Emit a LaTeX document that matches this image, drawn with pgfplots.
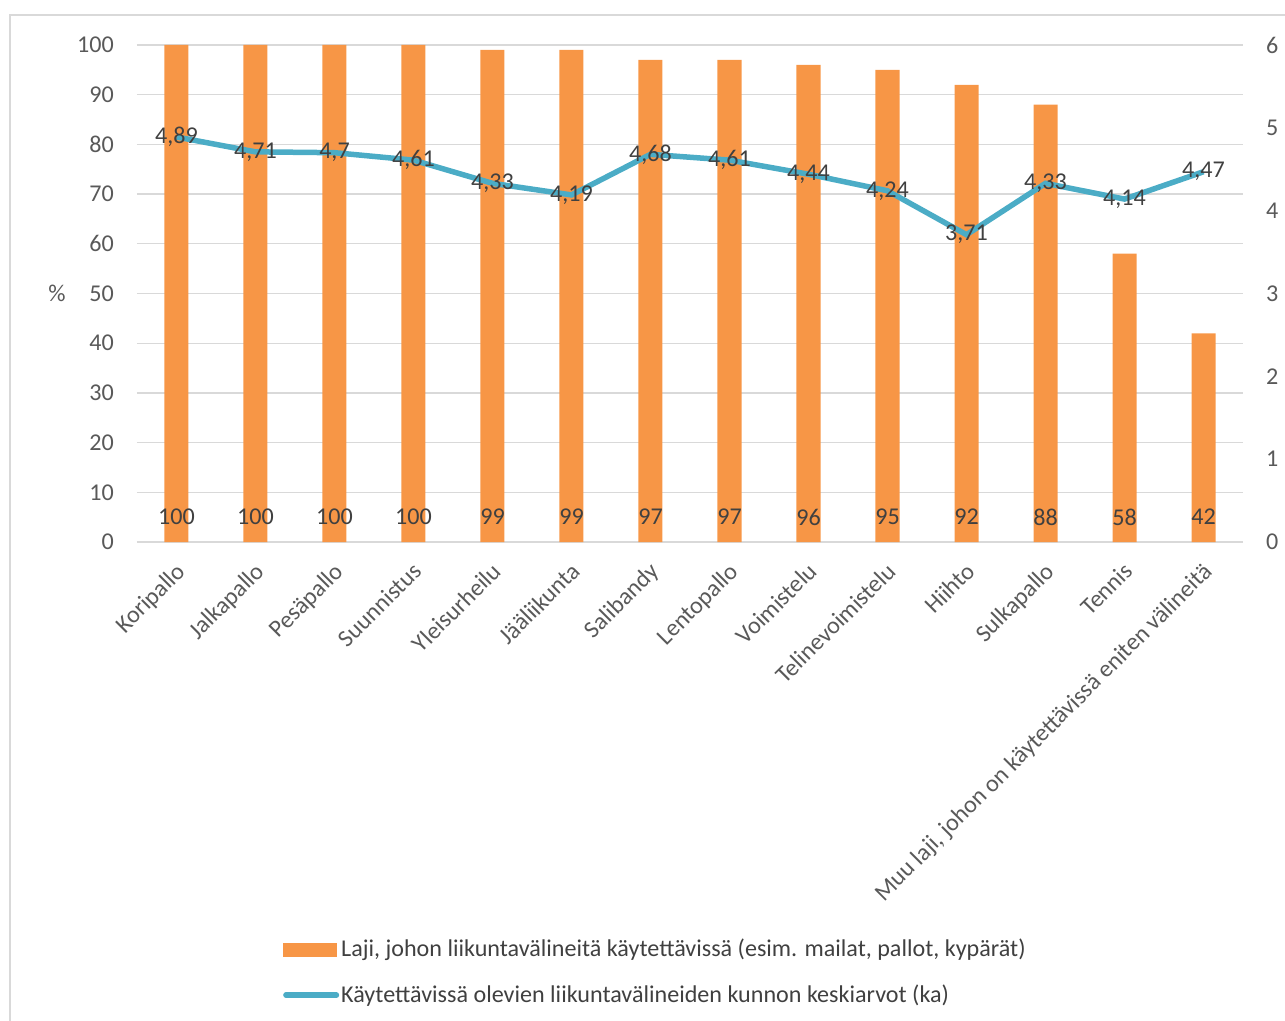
\documentclass[border=0pt]{standalone}
\usepackage{fontspec}
\setmainfont{Carlito}
\usepackage{pgfplots}
\pgfplotsset{compat=1.18}
\definecolor{barc}{HTML}{F79646}
\definecolor{linec}{HTML}{4BACC6}
\definecolor{gridc}{HTML}{D9D9D9}
\definecolor{tickc}{HTML}{595959}
\definecolor{labc}{HTML}{404040}
\newcommand{\fs}{\fontsize{24.2}{28}\selectfont}
\begin{document}
\fs
\begin{tikzpicture}
\begin{axis}[
  at={(0,0)}, anchor=south west,
  scale only axis, width=1106bp, height=497bp,
  xmin=-0.5, xmax=13.5, ymin=0, ymax=100,
  ytick={0,10,...,100},
  xtick={0,...,13},
  xticklabels={Koripallo,Jalkapallo,Pesäpallo,Suunnistus,Yleisurheilu,Jääliikunta,Salibandy,Lentopallo,Voimistelu,Telinevoimistelu,Hiihto,Sulkapallo,Tennis,{Muu laji, johon on käytettävissä eniten välineitä}},
  axis line style={draw=none},
  major tick length=0pt,
  ymajorgrids, grid style={gridc, line width=1.3bp},
  tick label style={font=\fs, text=tickc},
  /pgf/number format/assume math mode=true,
  yticklabel style={xshift=-15bp},
  xticklabel style={xshift=-2bp, yshift=-19bp, rotate=45, anchor=north east, inner sep=0pt},
  ylabel={\%},
  ylabel style={rotate=-90, at={(axis description cs:-0.0723,0.5)}, anchor=center, font=\fs, text=tickc},
  clip=false,
]
\addplot[ybar, bar width=24bp, fill=barc, draw=none] coordinates {
(0,100) (1,100) (2,100) (3,100) (4,99) (5,99) (6,97) (7,97) (8,96) (9,95) (10,92) (11,88) (12,58) (13,42)};
\addplot[draw=none, mark=none, nodes near coords, point meta=explicit,
  nodes near coords style={anchor=center, text=labc, font=\fs, /pgf/number format/assume math mode=true}] coordinates {
(0,5) [100] (1,5) [100] (2,5) [100] (3,5) [100] (4,5) [99] (5,5) [99] (6,5) [97] (7,5) [97] (8,5) [96] (9,5) [95] (10,5) [92] (11,5) [88] (12,5) [58] (13,5) [42]};
\end{axis}
\begin{axis}[
  at={(0,0)}, anchor=south west,
  scale only axis, width=1106bp, height=497bp,
  xmin=-0.5, xmax=13.5, ymin=0, ymax=6,
  ytick={0,...,6}, xtick=\empty,
  yticklabel pos=right,
  axis line style={draw=none},
  major tick length=0pt,
  tick label style={font=\fs, text=tickc},
  /pgf/number format/assume math mode=true,
  yticklabel style={xshift=15bp},
  clip=false,
  legend style={at={(0.132,-0.795)}, anchor=north west, draw=none, fill=none,
    font=\fs, text=labc, row sep=20bp, inner sep=0pt,
    /tikz/every even column/.append style={column sep=0bp}},
  legend cell align=left,
]
\addlegendimage{legend image code/.code={\fill[barc] (0bp,-6.5bp) rectangle (53bp,6.5bp);}}
\addlegendentry{Laji, johon liikuntavälineitä käytettävissä (esim. mailat, pallot, kypärät)}
\addplot[linec, line width=5.5bp, mark=none,
  legend image code/.code={\draw[linec, line width=5.5bp, line cap=round] (2.5bp,0) -- (53bp,0);},
  nodes near coords, point meta=y,
  nodes near coords style={anchor=center, text=labc, font=\fs,
    /pgf/number format/.cd, use comma, fixed, precision=2, assume math mode=true}] coordinates {
(0,4.89) (1,4.71) (2,4.70) (3,4.61) (4,4.33) (5,4.19) (6,4.68) (7,4.61) (8,4.44) (9,4.24) (10,3.71) (11,4.33) (12,4.14) (13,4.47)};
\addlegendentry{Käytettävissä olevien liikuntavälineiden kunnon keskiarvot (ka)}
\end{axis}
\draw[gridc, line width=1.3bp] (-127bp,-479bp) -- (-127bp,527bp) -- (1148bp,527bp);
\pgfresetboundingbox
\useasboundingbox (-137bp,-479bp) rectangle (1148bp,542bp);
\end{tikzpicture}
\end{document}
